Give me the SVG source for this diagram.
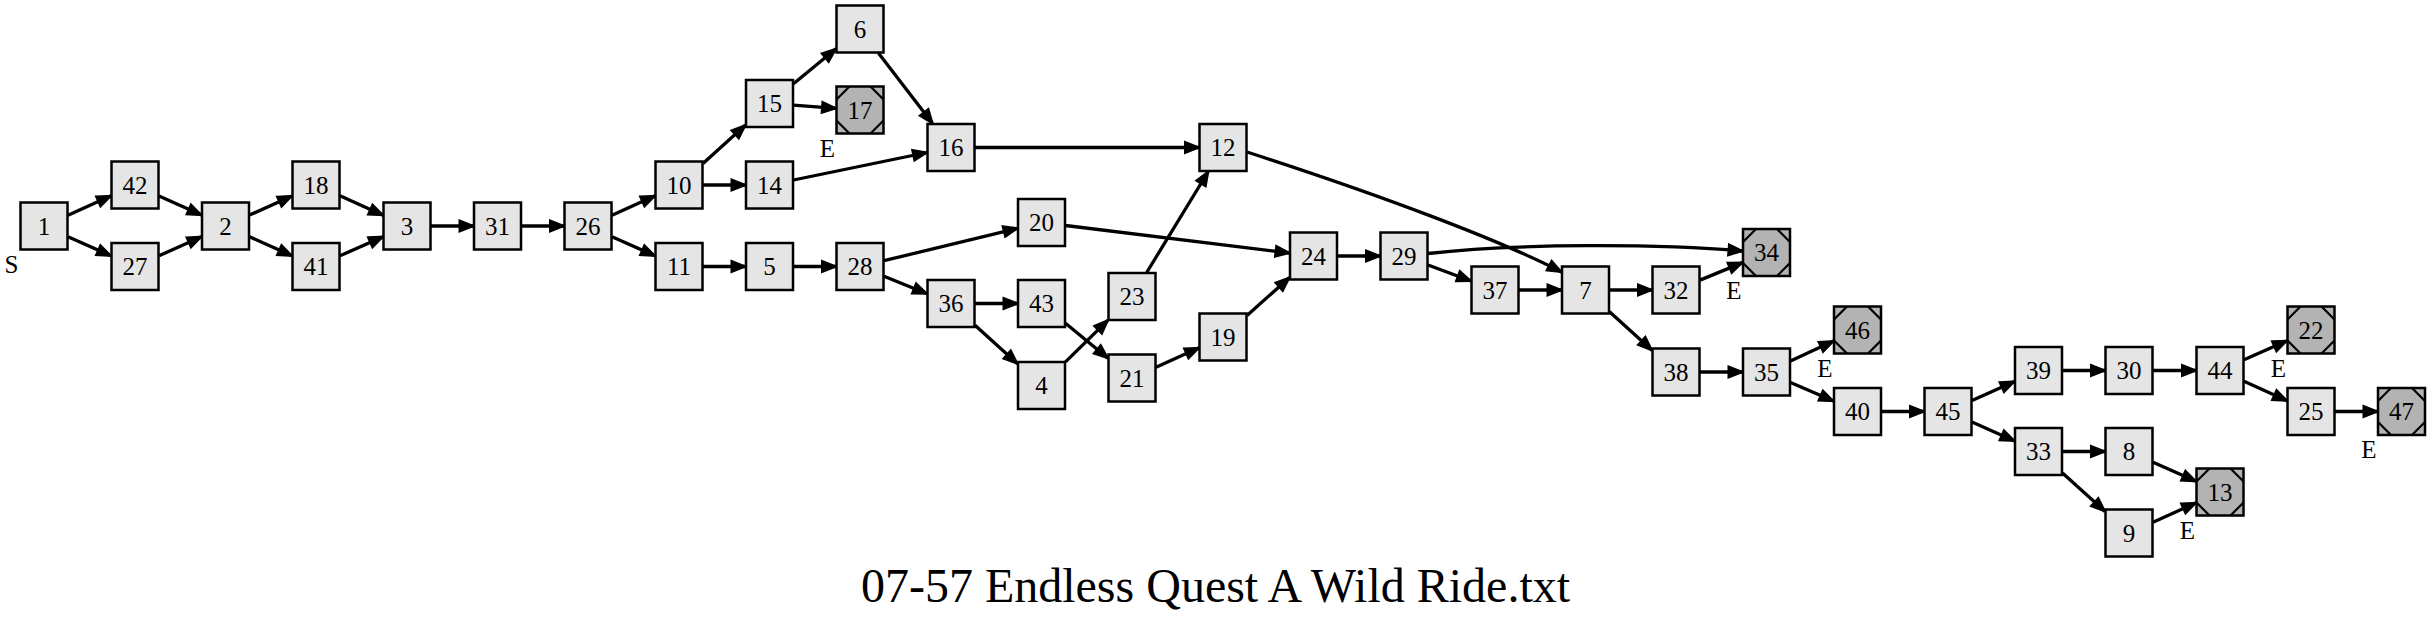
<svg xmlns="http://www.w3.org/2000/svg" xmlns:xlink="http://www.w3.org/1999/xlink" width="2431" height="621" viewBox="0 0 2431 621">
<style>
.node rect{fill:#e5e5e5;stroke:#000;stroke-width:2.5}
.end rect{fill:#b3b3b3}
.deco{fill:none;stroke:#000;stroke-width:2.2}
.node text,.lbl{font-family:"Liberation Serif","Times New Roman",serif;font-size:25px;text-anchor:middle;fill:#000}
.edges path{fill:none;stroke:#000;stroke-width:3.3;marker-end:url(#arr)}
.title{font-family:"Liberation Serif","Times New Roman",serif;font-size:48px;text-anchor:middle;fill:#000}
</style>
<defs>
<marker id="arr" markerUnits="userSpaceOnUse" markerWidth="18" markerHeight="14" refX="14" refY="5.5" orient="auto" overflow="visible">
<polygon points="0,0 14,5.5 0,11" fill="#000" stroke="#000" stroke-width="2" stroke-linejoin="miter"/>
</marker>
<path id="msq" class="deco" d="M0,13L13,0M34,0L47,13M47,34L34,47M13,47L0,34"/>
</defs>
<rect width="2431" height="621" fill="#fff"/>
<g id="connectors" class="edges">
<path d="M68,215.2L111,195.8"/>
<path d="M68,236.7L111,255.8"/>
<path d="M159,195.9L201.5,215.1"/>
<path d="M159,255.8L201.5,236.7"/>
<path d="M249.5,215.1L292,195.9"/>
<path d="M249.5,236.7L292,255.8"/>
<path d="M340,195.8L383,215.2"/>
<path d="M340,255.8L383,236.7"/>
<path d="M431,226L473.5,226"/>
<path d="M521.5,226L564,226"/>
<path d="M612,215.2L655,195.8"/>
<path d="M612,236.7L655,255.8"/>
<path d="M703,163.4L745.5,125.1"/>
<path d="M703,185L745.5,185"/>
<path d="M793.5,83.7L836,48.8"/>
<path d="M793.5,105.2L836,108.3"/>
<path d="M878.4,53L932.6,123.5"/>
<path d="M793.5,180L927,152.5"/>
<path d="M975,147.5L1199,147.5"/>
<path d="M703,266.5L745.5,266.5"/>
<path d="M793.5,266.5L836,266.5"/>
<path d="M884,260.7L1017.5,228.3"/>
<path d="M884,276.3L927,293.7"/>
<path d="M1065.5,225.5L1289.5,253"/>
<path d="M975,303.5L1017.5,303.5"/>
<path d="M975,325.3L1017.5,363.8"/>
<path d="M1065.5,323.3L1108,358.2"/>
<path d="M1065.5,361.9L1108,320.1"/>
<path d="M1146.7,272.5L1208.3,171.5"/>
<path d="M1156,367.2L1199,347.8"/>
<path d="M1247,315.5L1289.5,277.5"/>
<path d="M1247,152C1380,195 1500,240 1561.5,272"/>
<path d="M1337.5,256L1380,256"/>
<path d="M1428,253.5C1520,243 1660,244 1742.5,251"/>
<path d="M1428,265L1471,281"/>
<path d="M1519,290L1561.5,290"/>
<path d="M1609.5,290L1652,290"/>
<path d="M1609.5,311.7L1652,350.3"/>
<path d="M1700,280.1L1742.5,262.6"/>
<path d="M1700,372L1742.5,372"/>
<path d="M1790.5,360.9L1833.5,341.1"/>
<path d="M1790.5,382.4L1833.5,401.1"/>
<path d="M1881.5,411.5L1924,411.5"/>
<path d="M1972,400.6L2014.5,381.4"/>
<path d="M1972,422.1L2014.5,440.9"/>
<path d="M2062.5,370.5L2105,370.5"/>
<path d="M2153,370.5L2196,370.5"/>
<path d="M2244,359.8L2287,340.7"/>
<path d="M2244,381.3L2287,400.7"/>
<path d="M2335,411.5L2377.5,411.5"/>
<path d="M2062.5,451.5L2105,451.5"/>
<path d="M2062.5,473.1L2105,511.4"/>
<path d="M2153,462.2L2196,481.3"/>
<path d="M2153,522.2L2196,502.8"/>
</g>
<g id="n1" class="node"><rect x="20.5" y="202.5" width="47" height="47"/><text x="44" y="234.5">1</text></g>
<g id="n42" class="node"><rect x="111.5" y="161.5" width="47" height="47"/><text x="135" y="193.5">42</text></g>
<g id="n27" class="node"><rect x="111.5" y="243" width="47" height="47"/><text x="135" y="275">27</text></g>
<g id="n2" class="node"><rect x="202" y="202.5" width="47" height="47"/><text x="225.5" y="234.5">2</text></g>
<g id="n18" class="node"><rect x="292.5" y="161.5" width="47" height="47"/><text x="316" y="193.5">18</text></g>
<g id="n41" class="node"><rect x="292.5" y="243" width="47" height="47"/><text x="316" y="275">41</text></g>
<g id="n3" class="node"><rect x="383.5" y="202.5" width="47" height="47"/><text x="407" y="234.5">3</text></g>
<g id="n31" class="node"><rect x="474" y="202.5" width="47" height="47"/><text x="497.5" y="234.5">31</text></g>
<g id="n26" class="node"><rect x="564.5" y="202.5" width="47" height="47"/><text x="588" y="234.5">26</text></g>
<g id="n10" class="node"><rect x="655.5" y="161.5" width="47" height="47"/><text x="679" y="193.5">10</text></g>
<g id="n11" class="node"><rect x="655.5" y="243" width="47" height="47"/><text x="679" y="275">11</text></g>
<g id="n15" class="node"><rect x="746" y="80" width="47" height="47"/><text x="769.5" y="112">15</text></g>
<g id="n14" class="node"><rect x="746" y="161.5" width="47" height="47"/><text x="769.5" y="193.5">14</text></g>
<g id="n5" class="node"><rect x="746" y="243" width="47" height="47"/><text x="769.5" y="275">5</text></g>
<g id="n6" class="node"><rect x="836.5" y="5.5" width="47" height="47"/><text x="860" y="37.5">6</text></g>
<g id="n17" class="node end"><rect x="836.5" y="86.5" width="47" height="47"/><use xlink:href="#msq" x="836.5" y="86.5"/><text x="860" y="118.5">17</text></g>
<g id="n28" class="node"><rect x="836.5" y="243" width="47" height="47"/><text x="860" y="275">28</text></g>
<g id="n16" class="node"><rect x="927.5" y="124" width="47" height="47"/><text x="951" y="156">16</text></g>
<g id="n36" class="node"><rect x="927.5" y="280" width="47" height="47"/><text x="951" y="312">36</text></g>
<g id="n20" class="node"><rect x="1018" y="199" width="47" height="47"/><text x="1041.5" y="231">20</text></g>
<g id="n43" class="node"><rect x="1018" y="280" width="47" height="47"/><text x="1041.5" y="312">43</text></g>
<g id="n4" class="node"><rect x="1018" y="362" width="47" height="47"/><text x="1041.5" y="394">4</text></g>
<g id="n23" class="node"><rect x="1108.5" y="273" width="47" height="47"/><text x="1132" y="305">23</text></g>
<g id="n21" class="node"><rect x="1108.5" y="354.5" width="47" height="47"/><text x="1132" y="386.5">21</text></g>
<g id="n12" class="node"><rect x="1199.5" y="124" width="47" height="47"/><text x="1223" y="156">12</text></g>
<g id="n19" class="node"><rect x="1199.5" y="313.5" width="47" height="47"/><text x="1223" y="345.5">19</text></g>
<g id="n24" class="node"><rect x="1290" y="232.5" width="47" height="47"/><text x="1313.5" y="264.5">24</text></g>
<g id="n29" class="node"><rect x="1380.5" y="232.5" width="47" height="47"/><text x="1404" y="264.5">29</text></g>
<g id="n37" class="node"><rect x="1471.5" y="266.5" width="47" height="47"/><text x="1495" y="298.5">37</text></g>
<g id="n7" class="node"><rect x="1562" y="266.5" width="47" height="47"/><text x="1585.5" y="298.5">7</text></g>
<g id="n32" class="node"><rect x="1652.5" y="266.5" width="47" height="47"/><text x="1676" y="298.5">32</text></g>
<g id="n38" class="node"><rect x="1652.5" y="348.5" width="47" height="47"/><text x="1676" y="380.5">38</text></g>
<g id="n34" class="node end"><rect x="1743" y="229" width="47" height="47"/><use xlink:href="#msq" x="1743" y="229"/><text x="1766.5" y="261">34</text></g>
<g id="n35" class="node"><rect x="1743" y="348.5" width="47" height="47"/><text x="1766.5" y="380.5">35</text></g>
<g id="n46" class="node end"><rect x="1834" y="306.5" width="47" height="47"/><use xlink:href="#msq" x="1834" y="306.5"/><text x="1857.5" y="338.5">46</text></g>
<g id="n40" class="node"><rect x="1834" y="388" width="47" height="47"/><text x="1857.5" y="420">40</text></g>
<g id="n45" class="node"><rect x="1924.5" y="388" width="47" height="47"/><text x="1948" y="420">45</text></g>
<g id="n39" class="node"><rect x="2015" y="347" width="47" height="47"/><text x="2038.5" y="379">39</text></g>
<g id="n33" class="node"><rect x="2015" y="428" width="47" height="47"/><text x="2038.5" y="460">33</text></g>
<g id="n30" class="node"><rect x="2105.5" y="347" width="47" height="47"/><text x="2129" y="379">30</text></g>
<g id="n8" class="node"><rect x="2105.5" y="428" width="47" height="47"/><text x="2129" y="460">8</text></g>
<g id="n9" class="node"><rect x="2105.5" y="509.5" width="47" height="47"/><text x="2129" y="541.5">9</text></g>
<g id="n44" class="node"><rect x="2196.5" y="347" width="47" height="47"/><text x="2220" y="379">44</text></g>
<g id="n13" class="node end"><rect x="2196.5" y="468.5" width="47" height="47"/><use xlink:href="#msq" x="2196.5" y="468.5"/><text x="2220" y="500.5">13</text></g>
<g id="n22" class="node end"><rect x="2287.5" y="306.5" width="47" height="47"/><use xlink:href="#msq" x="2287.5" y="306.5"/><text x="2311" y="338.5">22</text></g>
<g id="n25" class="node"><rect x="2287.5" y="388" width="47" height="47"/><text x="2311" y="420">25</text></g>
<g id="n47" class="node end"><rect x="2378" y="388" width="47" height="47"/><use xlink:href="#msq" x="2378" y="388"/><text x="2401.5" y="420">47</text></g>
<g id="labels">
<text class="lbl" x="11.5" y="272.5">S</text>
<text class="lbl" x="827.5" y="156.5">E</text>
<text class="lbl" x="1734" y="299">E</text>
<text class="lbl" x="1825" y="376.5">E</text>
<text class="lbl" x="2278.5" y="376.5">E</text>
<text class="lbl" x="2369" y="458">E</text>
<text class="lbl" x="2187.5" y="538.5">E</text>
</g>
<text class="title" x="1215.5" y="602">07-57 Endless Quest A Wild Ride.txt</text>
</svg>
